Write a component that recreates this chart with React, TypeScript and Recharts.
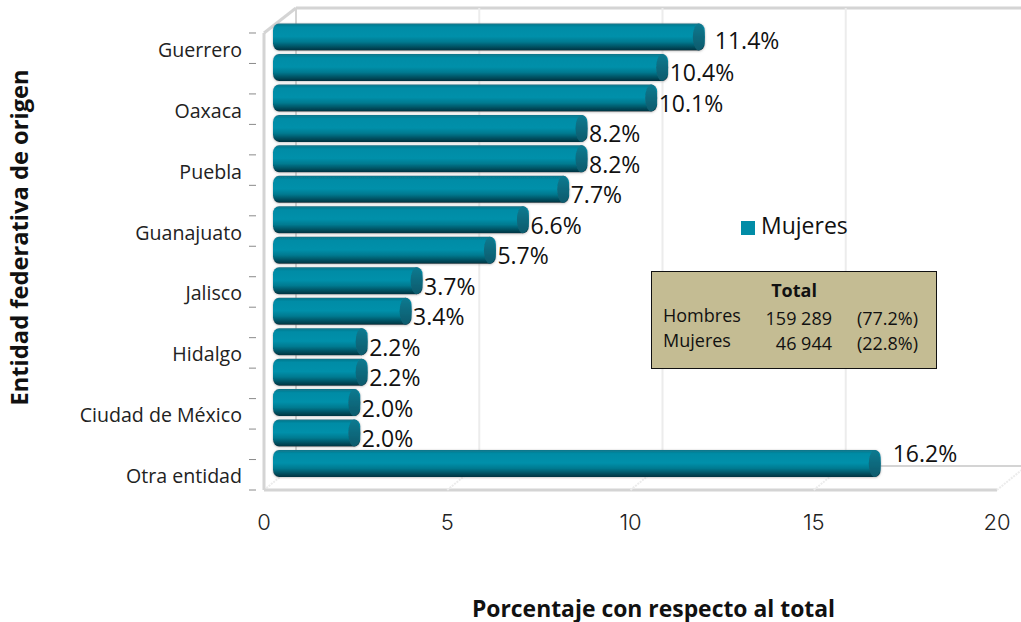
import { Bar, BarChart, CartesianGrid, LabelList, Legend, XAxis, YAxis } from 'recharts'

const categories = ['Guerrero', '', 'Oaxaca', '', 'Puebla', '', 'Guanajuato', '', 'Jalisco', '', 'Hidalgo', '', 'Ciudad de México', '', 'Otra entidad']
const mujeres = [11.4, 10.4, 10.1, 8.2, 8.2, 7.7, 6.6, 5.7, 3.7, 3.4, 2.2, 2.2, 2.0, 2.0, 16.2]
const xTicks = [0, 5, 10, 15, 20]

const totalRows = [
  { label: 'Hombres', count: '159 289', share: '(77.2%)' },
  { label: 'Mujeres', count: '46 944', share: '(22.8%)' },
]

const data = categories.map((name, i) => ({ id: i, name, mujeres: mujeres[i] }))

const FONT = '"Open Sans", sans-serif'
const WALL = '#d4d4d4'
const DEPTH_X = 32
const DEPTH_Y = 26
const PLOT_W = 733

function WallLine(props: any) {
  const { x1, y1, y2, index } = props
  const backX = x1 + DEPTH_X
  const top = y1 - DEPTH_Y + 1
  const floor = y2 - DEPTH_Y
  return (
    <g fill="none">
      <line x1={backX} y1={top} x2={backX} y2={floor} stroke={index === 0 ? WALL : '#ececec'} strokeWidth={2} />
      <line x1={x1} y1={y2} x2={backX} y2={floor} stroke="#ececec" strokeWidth={2} strokeDasharray="2 1" />
      {index === 0 && (
        <>
          <line x1={x1} y1={y1} x2={backX} y2={top} stroke={WALL} strokeWidth={3} />
          <line x1={backX} y1={top} x2={backX + PLOT_W} y2={top} stroke={WALL} strokeWidth={3} />
          <line x1={backX} y1={floor + 2} x2={backX + PLOT_W} y2={floor + 2} stroke={WALL} strokeWidth={2} />
          <line x1={x1} y1={y2} x2={x1 + PLOT_W} y2={y2} stroke={WALL} strokeWidth={3} />
        </>
      )}
    </g>
  )
}

function Cylinder(props: any) {
  const { x, y, width, height } = props
  const top = y - 11.5
  const left = x + 9
  const right = x + width + 23
  return (
    <g filter="url(#barShadow)">
      <rect x={left} y={top} width={right - left} height={height} rx={6} ry={7} fill="url(#barFill)" />
      <ellipse cx={right - 6} cy={top + height / 2} rx={6} ry={height / 2} fill="url(#capFill)" />
    </g>
  )
}

function BarValue(props: any) {
  const { x, y, width, height, value, index } = props
  const nudge = index === 14 ? -16 : index === 0 ? -2 : 0
  const dx = index === 14 ? 35 : index === 0 ? 33 : 24.5
  return (
    <text
      x={x + width + dx}
      y={y - 11.5 + height / 2 + 5 + nudge}
      dominantBaseline="central"
      fontFamily={FONT}
      fontSize={23}
      fill="#111"
    >
      {`${value.toFixed(1)}%`}
    </text>
  )
}

function CategoryTick(props: any) {
  const { x, y, payload, index } = props
  const band = 30.47
  return (
    <g>
      <line x1={x - 7} y1={y - band / 2} x2={x} y2={y - band / 2} stroke="#8a8a8a" />
      {index === categories.length - 1 && <line x1={x - 7} y1={y + band / 2} x2={x} y2={y + band / 2} stroke="#8a8a8a" />}
      <text x={x - 21} y={y + 1} dx={7} textAnchor="end" dominantBaseline="central" fontFamily={FONT} fontSize={19.6} fill="#222">
        {payload.value}
      </text>
    </g>
  )
}

function TotalBox() {
  return (
    <div
      style={{
        position: 'absolute',
        left: 651,
        top: 271,
        width: 284,
        height: 96,
        background: '#c4bc93',
        border: '1px solid #111',
        fontFamily: FONT,
        fontSize: 18,
        color: '#111',
      }}
    >
      <div style={{ position: 'absolute', left: 0, top: 6, width: 284, textAlign: 'center', fontWeight: 700 }}>Total</div>
      {totalRows.map((row, i) => (
        <div key={row.label}>
          <span style={{ position: 'absolute', left: 11, top: 31 + i * 25 }}>{row.label}</span>
          <span style={{ position: 'absolute', right: 104, top: 34 + i * 25 }}>{row.count}</span>
          <span style={{ position: 'absolute', right: 18, top: 34 + i * 25 }}>{row.share}</span>
        </div>
      ))}
    </div>
  )
}

export default function App() {
  return (
    <div style={{ position: 'absolute', left: 0, top: 0, width: 1021, height: 622, background: '#fff', overflow: 'hidden' }}>
      <BarChart
        width={1021}
        height={622}
        data={data}
        layout="vertical"
        margin={{ top: 33, right: 24, bottom: 0, left: 0 }}
        barSize={27}
      >
        <defs>
          <linearGradient id="barFill" x1="0" y1="0" x2="0" y2="1">
            <stop offset="0" stopColor="#0b7488" />
            <stop offset="0.14" stopColor="#018ca6" />
            <stop offset="0.48" stopColor="#0190aa" />
            <stop offset="0.68" stopColor="#047a90" />
            <stop offset="1" stopColor="#04323f" />
          </linearGradient>
          <linearGradient id="capFill" x1="0" y1="0" x2="0" y2="1">
            <stop offset="0" stopColor="#0b7a90" />
            <stop offset="1" stopColor="#0a5a6c" />
          </linearGradient>
          <filter id="barShadow" x="-5%" y="-20%" width="110%" height="140%">
            <feDropShadow dx="0" dy="0.5" stdDeviation="1.2" floodColor="#777" floodOpacity="0.55" />
          </filter>
        </defs>
        <CartesianGrid horizontal={false} vertical={(p: any) => <WallLine key={p.index} {...p} />} />
        <XAxis
          type="number"
          domain={[0, 20]}
          ticks={xTicks}
          height={132}
          axisLine={false}
          tickLine={false}
          tickMargin={18}
          tick={{ fontFamily: 'Inter, sans-serif', fontSize: 22, fontWeight: 300, fill: '#222' }}
          label={{
            value: 'Porcentaje con respecto al total',
            position: 'insideBottom',
            offset: 5,
            fontFamily: FONT,
            fontSize: 22.9,
            fontWeight: 700,
            fill: '#111',
            dx: 23,
          }}
        />
        <YAxis
          type="category"
          dataKey="id"
          width={264}
          interval={0}
          axisLine={{ stroke: WALL, strokeWidth: 3 }}
          tickLine={false}
          tick={(p: any) => <CategoryTick {...p} payload={{ value: categories[p.payload.value] }} />}
          label={{
            value: 'Entidad federativa de origen',
            angle: -90,
            position: 'insideLeft',
            offset: 20,
            fontFamily: FONT,
            fontSize: 23.7,
            fontWeight: 700,
            fill: '#111',
            dy: 144,
          }}
        />
        <Legend
          layout="vertical"
          align="center"
          verticalAlign="middle"
          iconType="square"
          iconSize={14}
          wrapperStyle={{ left: 741, top: 209, width: 130, fontFamily: FONT, fontSize: 23 }}
          formatter={(value: string) => <span style={{ color: '#111', marginLeft: 2 }}>{value}</span>}
        />
        <Bar dataKey="mujeres" name="Mujeres" fill="#018ca6" shape={<Cylinder />} isAnimationActive={false}>
          <LabelList dataKey="mujeres" content={<BarValue />} />
        </Bar>
      </BarChart>
      <TotalBox />
    </div>
  )
}
